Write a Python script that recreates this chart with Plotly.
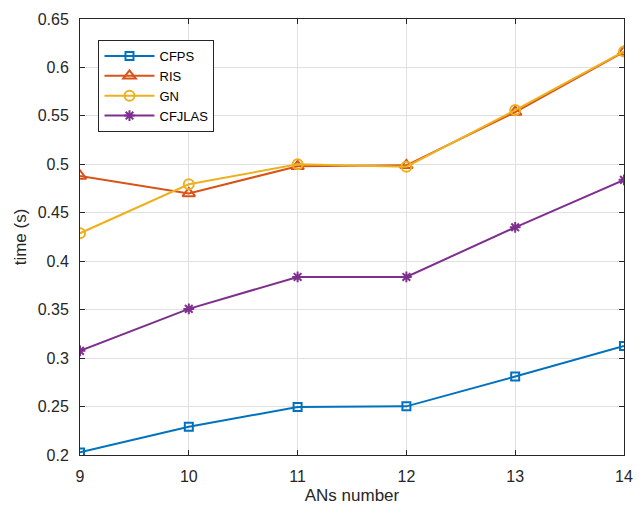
import plotly.graph_objects as go

ans_number = [9, 10, 11, 12, 13, 14]
cfps = [0.2027, 0.2292, 0.2495, 0.2502, 0.281, 0.3125]
ris = [0.488, 0.470, 0.498, 0.499, 0.554, 0.616]
gn = [0.4289, 0.4794, 0.500, 0.4975, 0.556, 0.6165]
cfjlas = [0.3075, 0.3508, 0.3838, 0.3838, 0.435, 0.484]

y_ticks = [0.2, 0.25, 0.3, 0.35, 0.4, 0.45, 0.5, 0.55, 0.6, 0.65]
y_tick_text = ["0.2", "0.25", "0.3", "0.35", "0.4", "0.45", "0.5", "0.55", "0.6", "0.65"]

series = [
    ("CFPS", cfps, "#0072BD", "square-open", 8),
    ("RIS", ris, "#D95319", "triangle-up-open", 11),
    ("GN", gn, "#EDB120", "circle-open", 10),
    ("CFJLAS", cfjlas, "#7E2F8E", "asterisk-open", 9),
]

font_family = "Liberation Sans, Arial, sans-serif"
axis_color = "#262626"
x_range = [9, 14]
y_range = [0.2, 0.65]

fig = go.Figure()
for name, vals, color, symbol, size in series:
    fig.add_trace(go.Scatter(
        x=ans_number, y=vals, name=name, mode="lines+markers",
        line=dict(color=color, width=2),
        marker=dict(symbol=symbol, size=size, color=color,
                    line=dict(color=color, width=2)),
    ))

# invisible trace carrying the overlay axes that draw the inward tick marks
fig.add_trace(go.Scatter(
    x=ans_number, y=cfps, xaxis="x2", yaxis="y2", mode="lines",
    line=dict(width=0, color="rgba(0,0,0,0)"), showlegend=False,
    hoverinfo="skip",
))

label_axis = dict(
    showline=True, linecolor=axis_color, linewidth=1, mirror=True,
    ticks="outside", ticklen=7, tickcolor="rgba(0,0,0,0)",
    showgrid=True, gridcolor="#e0e0e0", gridwidth=1,
    zeroline=False,
    tickfont=dict(family=font_family, size=16, color=axis_color),
    title_font=dict(family=font_family, size=17, color=axis_color),
)
tick_axis = dict(
    showline=False, ticks="inside", ticklen=5, tickcolor=axis_color,
    mirror="ticks", showticklabels=False, showgrid=False, zeroline=False,
)

fig.update_layout(
    width=643, height=513,
    margin=dict(l=80, r=10, t=19, b=58),
    paper_bgcolor="white", plot_bgcolor="white",
    showlegend=True,
    legend=dict(
        x=0.034, y=0.952, xanchor="left", yanchor="top",
        bgcolor="white", bordercolor=axis_color, borderwidth=1,
        font=dict(family=font_family, size=13, color="black"),
        tracegroupgap=0, itemwidth=50,
    ),
    xaxis=dict(label_axis, range=x_range, tickvals=ans_number,
               title=dict(text="ANs number", standoff=4)),
    yaxis=dict(label_axis, range=y_range,
               tickvals=y_ticks, ticktext=y_tick_text,
               title=dict(text="time (s)", standoff=6)),
    xaxis2=dict(tick_axis, range=x_range, tickvals=ans_number,
                overlaying="x", anchor="y2"),
    yaxis2=dict(tick_axis, range=y_range, tickvals=y_ticks,
                overlaying="y", anchor="x2"),
)

fig.write_html("out.html")
